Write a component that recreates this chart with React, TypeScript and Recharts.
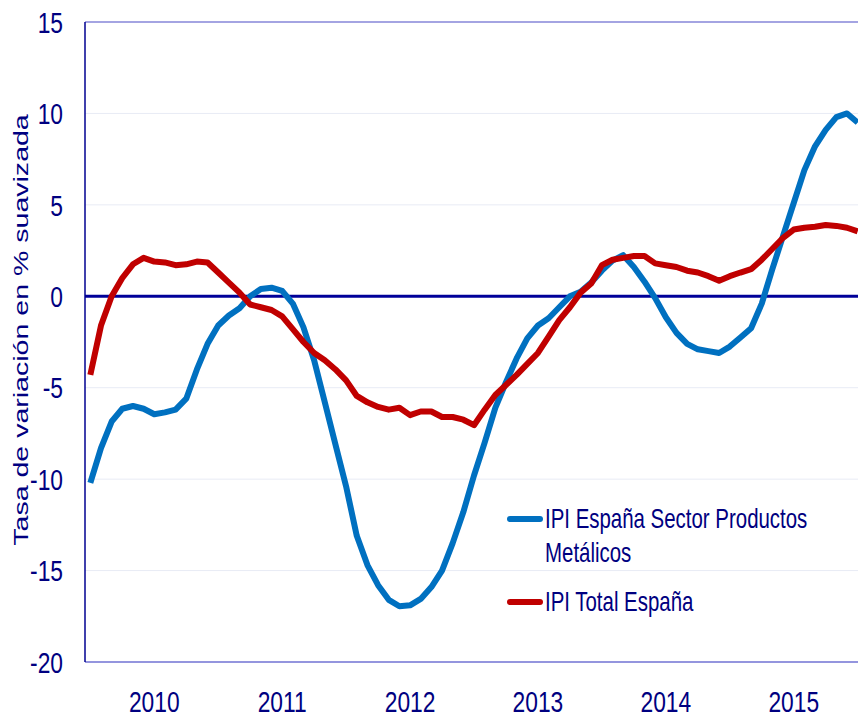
import React from 'react';
import {
  LineChart,
  Line,
  XAxis,
  YAxis,
  CartesianGrid,
  ReferenceLine,
  Legend,
} from 'recharts';

// monthly smoothed growth rates, Jan 2010 .. Jan 2016
const years = ['2010', '2011', '2012', '2013', '2014', '2015'];

const metalicos = [
  -10.2, -8.3, -6.85, -6.15, -6.0, -6.15, -6.45, -6.35, -6.2, -5.6, -4.0, -2.6,
  -1.6, -1.05, -0.65, 0.0, 0.4, 0.47, 0.3, -0.4, -1.7, -3.5, -5.8, -8.1,
  -10.4, -13.1, -14.7, -15.8, -16.6, -16.95, -16.9, -16.55, -15.9, -15.0, -13.5, -11.8,
  -9.8, -8.0, -6.1, -4.7, -3.4, -2.3, -1.6, -1.2, -0.6, 0.0, 0.25, 0.75,
  1.4, 1.95, 2.25, 1.6, 0.8, -0.1, -1.15, -2.0, -2.6, -2.9, -3.0, -3.1,
  -2.75, -2.25, -1.75, -0.4, 1.5, 3.3, 5.1, 6.9, 8.2, 9.1, 9.8, 10.0,
  9.5,
];

const total = [
  -4.3, -1.6, 0.0, 1.0, 1.75, 2.1, 1.9, 1.85, 1.7, 1.75, 1.9, 1.85,
  1.3, 0.75, 0.2, -0.45, -0.6, -0.75, -1.1, -1.8, -2.5, -3.1, -3.5, -4.0,
  -4.6, -5.45, -5.8, -6.05, -6.2, -6.1, -6.5, -6.3, -6.3, -6.6, -6.6, -6.75,
  -7.05, -6.2, -5.4, -4.85, -4.3, -3.7, -3.1, -2.2, -1.3, -0.6, 0.2, 0.7,
  1.7, 2.0, 2.1, 2.2, 2.2, 1.8, 1.7, 1.6, 1.4, 1.3, 1.1, 0.85,
  1.1, 1.3, 1.48, 2.0, 2.6, 3.2, 3.65, 3.75, 3.8, 3.9, 3.85, 3.75,
  3.55,
];

const yTicks = [-20, -15, -10, -5, 0, 5, 10, 15];

const NAVY = '#000080';
const FONT = "'Liberation Sans', Arial, sans-serif";
const SQUEEZE = 0.76;

const data = metalicos.map((v, i) => ({ t: i, metalicos: v, total: total[i] }));

// year labels sit in the middle of each year
const yearTicks = years.map((_, i) => i * 12 + 6);

const XTick = ({ x, y, payload }: any) => {
  const label = years[Math.round((payload.value - 6) / 12)];
  return (
    <text
      transform={`translate(${x},${y}) scale(${SQUEEZE},1)`}
      textAnchor="middle"
      dy="0.71em"
      fill={NAVY}
      fontSize={30}
      fontFamily={FONT}
    >
      {label}
    </text>
  );
};

const YTick = ({ x, y, payload }: any) => (
  <text
    transform={`translate(${x},${y}) scale(${SQUEEZE},1)`}
    textAnchor="end"
    dy="0.355em"
    fill={NAVY}
    fontSize={30}
    fontFamily={FONT}
  >
    {payload.value}
  </text>
);

const YTitle = ({ viewBox }: any) => {
  const cx = 21;
  const cy = viewBox.y + viewBox.height / 2 - 12;
  return (
    <text
      transform={`translate(${cx},${cy}) rotate(-90) scale(1.36,1)`}
      textAnchor="middle"
      dy="0.355em"
      fill={NAVY}
      fontSize={21}
      fontFamily={FONT}
    >
      Tasa de variación en % suavizada
    </text>
  );
};

// break long legend names over two lines
const wrap = (s: string, max: number) => {
  const lines: string[] = [];
  let cur = '';
  s.split(' ').forEach((w) => {
    if (cur && (cur + ' ' + w).length > max) {
      lines.push(cur);
      cur = w;
    } else {
      cur = cur ? cur + ' ' + w : w;
    }
  });
  if (cur) lines.push(cur);
  return lines;
};

const renderLegend = (props: any) => {
  const { payload } = props;
  let top = 24;
  return (
    <svg width={340} height={130}>
      {payload.map((entry: any) => {
        const lines = wrap(entry.value, 28);
        const y = top;
        top += lines.length * 34 + 15;
        return (
          <g key={entry.value}>
            <line
              x1={13}
              x2={43}
              y1={y}
              y2={y}
              stroke={entry.color}
              strokeWidth={6}
              strokeLinecap="round"
            />
            {lines.map((ln, j) => (
              <text
                key={j}
                transform={`translate(48,${y + 9 + j * 34}) scale(0.73,1)`}
                fill={NAVY}
                fontSize={28}
                fontFamily={FONT}
              >
                {ln}
              </text>
            ))}
          </g>
        );
      })}
    </svg>
  );
};

export default function App() {
  return (
    <div
      style={{
        position: 'absolute',
        left: 0,
        top: 0,
        width: 858,
        height: 719,
        overflow: 'hidden',
        background: '#fff',
      }}
    >
      <LineChart
        width={870}
        height={719}
        data={data}
        margin={{ top: 22, right: 7, bottom: 0, left: 0 }}
      >
        <CartesianGrid vertical={false} stroke="#e8ebf5" />
        <XAxis
          type="number"
          dataKey="t"
          domain={[-0.5, 72.5]}
          ticks={yearTicks}
          tick={<XTick />}
          tickLine={false}
          tickSize={0}
          tickMargin={29}
          height={57}
          axisLine={{ stroke: '#7474d4', strokeWidth: 1.5 }}
        />
        <YAxis
          type="number"
          domain={[-20, 15]}
          ticks={yTicks}
          tick={<YTick />}
          tickLine={false}
          tickSize={0}
          tickMargin={22}
          width={85}
          axisLine={{ stroke: '#000090', strokeWidth: 1.5 }}
          label={{ content: YTitle }}
        />
        <ReferenceLine y={15} stroke="#a4a4e2" strokeWidth={2} />
        <ReferenceLine y={0} stroke="#000099" strokeWidth={3} />
        <Legend
          content={renderLegend}
          layout="vertical"
          align="center"
          verticalAlign="middle"
          wrapperStyle={{ left: 497, top: 495, width: 340, height: 130 }}
        />
        <Line
          type="linear"
          dataKey="metalicos"
          name="IPI España Sector Productos Metálicos"
          stroke="#0070C0"
          strokeWidth={6}
          strokeLinejoin="round"
          dot={false}
          isAnimationActive={false}
        />
        <Line
          type="linear"
          dataKey="total"
          name="IPI Total España"
          stroke="#C00000"
          strokeWidth={6}
          strokeLinejoin="round"
          dot={false}
          isAnimationActive={false}
        />
      </LineChart>
    </div>
  );
}
